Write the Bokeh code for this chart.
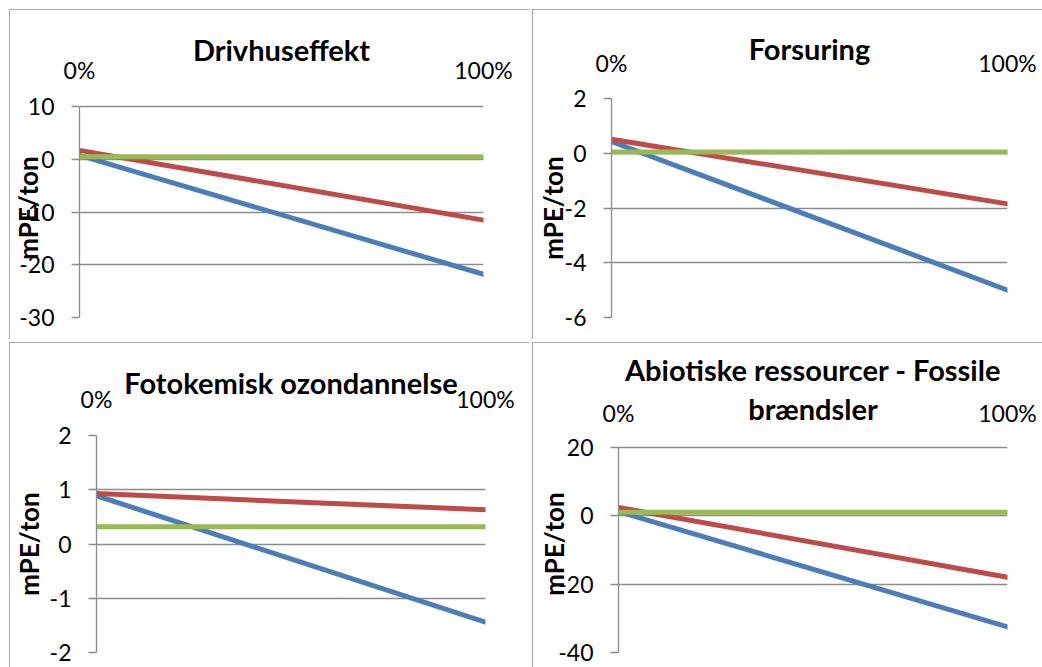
from bokeh.plotting import figure
from bokeh.layouts import row, column
from bokeh.models import Range1d, FixedTicker, NumeralTickFormatter, CustomJSTickFormatter
from bokeh.embed import file_html
from bokeh.resources import INLINE

# ---------------- data ----------------
x_share = [0.0, 1.0]          # 0% .. 100%
x_label_ticks = [0.0, 1.0]
y_axis_title = "mPE/ton"

title_drivhus = "Drivhuseffekt"
ticks_drivhus = [-30, -20, -10, 0, 10]
blue_drivhus = [0.8, -21.8]
red_drivhus = [1.74, -11.5]
green_drivhus = [0.52, 0.52]

title_forsuring = "Forsuring"
ticks_forsuring = [-6, -4, -2, 0, 2]
blue_forsuring = [0.43, -5.0]
red_forsuring = [0.51, -1.85]
green_forsuring = [0.05, 0.05]

title_foto = "Fotokemisk ozondannelse"
ticks_foto = [-2, -1, 0, 1, 2]
blue_foto = [0.89, -1.44]
red_foto = [0.93, 0.63]
green_foto = [0.32, 0.32]

title_abiotisk = "Abiotiske ressourcer - Fossile\nbrændsler"
ticks_abiotisk = [-40, -20, 0, 20]
blue_abiotisk = [1.2, -32.5]
red_abiotisk = [2.4, -18.0]
green_abiotisk = [1.0, 1.0]

# ---------------- style ----------------
FONT = "Lato"
GRAY = "#8c8c8c"
BLUE = "#4a7ebb"
RED = "#be4b48"
GREEN = "#98b954"


def panel(title, ticks, blue, red, green, width, height, left, right, top, bottom,
          pad_top, pad_bottom, label_standoff, title_standoff, ylab_standoff):
    lo, hi = min(ticks), max(ticks)
    p = figure(width=width, height=height, output_backend="svg", toolbar_location=None,
               x_range=Range1d(0, 1), y_range=Range1d(lo - pad_bottom, hi + pad_top),
               x_axis_location="above", min_border_left=left, min_border_right=right,
               min_border_top=top, min_border_bottom=bottom,
               background_fill_color="white", border_fill_color="white",
               styles={"outline": "1px solid " + GRAY, "outline-offset": "-1px"})
    p.outline_line_color = None
    p.xgrid.visible = False
    p.ygrid.grid_line_color = GRAY
    p.ygrid.grid_line_width = 1.3
    p.ygrid.ticker = FixedTicker(ticks=ticks)

    xa = p.xaxis[0]
    xa.ticker = FixedTicker(ticks=x_label_ticks)
    xa.formatter = NumeralTickFormatter(format="0%")
    xa.axis_line_color = None
    xa.major_tick_line_color = None
    xa.minor_tick_line_color = None
    xa.major_tick_out = 0
    xa.major_tick_in = 0
    xa.major_label_standoff = label_standoff
    xa.major_label_text_font = FONT
    xa.major_label_text_font_size = "23px"
    xa.major_label_text_color = "black"
    xa.axis_label = title
    xa.axis_label_standoff = title_standoff
    xa.axis_label_text_font = FONT
    xa.axis_label_text_font_size = "29px"
    xa.axis_label_text_font_style = "bold"
    xa.axis_label_text_color = "black"
    xa.axis_label_text_line_height = 1.1

    ya = p.yaxis[0]
    ya.ticker = FixedTicker(ticks=ticks)
    ya.formatter = CustomJSTickFormatter(code="return String(tick)")
    ya.bounds = (lo, hi)
    ya.axis_line_color = GRAY
    ya.axis_line_width = 1.3
    ya.major_tick_line_color = GRAY
    ya.major_tick_line_width = 1.3
    ya.major_tick_out = 8
    ya.major_tick_in = 0
    ya.minor_tick_line_color = None
    ya.major_label_standoff = 17
    ya.major_label_text_font = FONT
    ya.major_label_text_font_size = "23px"
    ya.major_label_text_color = "black"
    ya.axis_label = y_axis_title
    ya.axis_label_standoff = ylab_standoff
    ya.axis_label_text_font = FONT
    ya.axis_label_text_font_size = "26px"
    ya.axis_label_text_font_style = "bold"
    ya.axis_label_text_color = "black"

    for ys, c in ((blue, BLUE), (red, RED), (green, GREEN)):
        p.line(x_share, ys, line_color=c, line_width=5, line_cap="round")
    return p


# frames of plots in one row share top/bottom, so ranges get a little headroom
p1 = panel(title_drivhus, ticks_drivhus, blue_drivhus, red_drivhus, green_drivhus,
           520, 330, 65, 46, 89, 22, 1.6, 0.0, 15, -14, -28)
p2 = panel(title_forsuring, ticks_forsuring, blue_forsuring, red_forsuring, green_forsuring,
           510, 330, 79, 35, 89, 22, 0.0, 0.0, 22, -20, -7)
p3 = panel(title_foto, ticks_foto, blue_foto, red_foto, green_foto,
           520, 325, 87, 44, 93, 15, 0.0, 0.0, 23, -18, 2)
p4 = panel(title_abiotisk, ticks_abiotisk, blue_abiotisk, red_abiotisk, green_abiotisk,
           510, 325, 86, 35, 93, 15, 3.42, 0.0, 9, -30, -15)

layout = column(row(p1, p2, spacing=3), row(p3, p4, spacing=3), spacing=3,
                margin=(9, 0, 0, 9))

open("out.html", "w").write(file_html(layout, INLINE))
